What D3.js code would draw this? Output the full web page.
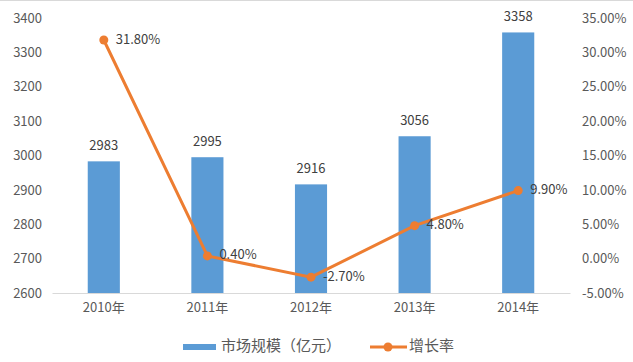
<!DOCTYPE html>
<html>
<head>
<meta charset="utf-8">
<script src="https://cdn.jsdelivr.net/npm/d3@7"></script>
<style>
  body { margin: 0; background: #fff; }
  text { font-family: "Noto Sans CJK SC", "Noto Sans", sans-serif; }
</style>
</head>
<body>
<div id="chart"></div>
<script>
// data
const years = ['2010年', '2011年', '2012年', '2013年', '2014年'];
const marketSize = [2983, 2995, 2916, 3056, 3358];
const growthRate = [31.8, 0.4, -2.7, 4.8, 9.9];
const leftTicks = [2600, 2700, 2800, 2900, 3000, 3100, 3200, 3300, 3400];
const rightTicks = [-5, 0, 5, 10, 15, 20, 25, 30, 35];

function drawChart() {
  const width = 633, height = 362;
  const margin = ({top: 18, right: 63, bottom: 69, left: 52});
  const visWidth = width - margin.left - margin.right;
  const visHeight = height - margin.top - margin.bottom;

  const svg = d3.select('#chart').append('svg')
      .attr('width', width)
      .attr('height', height);

  // thin border line at top
  svg.append('line')
      .attr('x1', 0).attr('x2', width)
      .attr('y1', 0.5).attr('y2', 0.5)
      .attr('stroke', '#d9d9d9');

  const g = svg.append('g')
      .attr('transform', `translate(${margin.left}, ${margin.top})`);

  const x = d3.scaleBand().domain(years).range([0, visWidth]).paddingInner(0.69).paddingOuter(0.345);
  const y = d3.scaleLinear().domain([2600, 3400]).range([visHeight, 0]);
  const y2 = d3.scaleLinear().domain([-5, 35]).range([visHeight, 0]);

  // left axis
  g.append('g')
      .call(d3.axisLeft(y).tickValues(leftTicks).tickFormat(d3.format('d')).tickSize(0).tickPadding(10))
      .call(g => g.select('.domain').remove())
      .call(g => g.selectAll('text').attr('fill', '#595959').style('font-size', '13px'));

  // right axis
  g.append('g')
      .attr('transform', `translate(${visWidth}, 0)`)
      .call(d3.axisRight(y2).tickValues(rightTicks).tickSize(0).tickPadding(12)
        .tickFormat(d => d.toFixed(2) + '%'))
      .call(g => g.select('.domain').remove())
      .call(g => g.selectAll('text').attr('fill', '#595959').style('font-size', '13px'));

  // bars
  g.selectAll('rect.bar')
    .data(marketSize)
    .join('rect')
      .attr('class', 'bar')
      .attr('x', (d, i) => x(years[i]))
      .attr('y', d => y(d))
      .attr('width', x.bandwidth())
      .attr('height', d => visHeight - y(d))
      .attr('fill', '#5b9bd5');

  // x axis baseline
  g.append('g')
      .attr('transform', `translate(0, ${visHeight})`)
      .call(d3.axisBottom(x).tickSize(0).tickPadding(10))
      .call(g => g.select('.domain').attr('stroke', '#d9d9d9'))
      .call(g => g.selectAll('text').attr('fill', '#595959').style('font-size', '13px'));

  // bar labels
  g.selectAll('text.barlabel')
    .data(marketSize)
    .join('text')
      .attr('class', 'barlabel')
      .attr('x', (d, i) => x(years[i]) + x.bandwidth() / 2)
      .attr('y', d => y(d) - 11)
      .attr('text-anchor', 'middle')
      .attr('fill', '#404040')
      .style('font-size', '13px')
      .text(d => d);

  // growth line
  const cx = i => x(years[i]) + x.bandwidth() / 2;
  const line = d3.line()
      .x((d, i) => cx(i))
      .y(d => y2(d));

  g.append('path')
      .datum(growthRate)
      .attr('d', line)
      .attr('fill', 'none')
      .attr('stroke', '#ed7d31')
      .attr('stroke-width', 3);

  g.selectAll('circle.pt')
    .data(growthRate)
    .join('circle')
      .attr('class', 'pt')
      .attr('cx', (d, i) => cx(i))
      .attr('cy', d => y2(d))
      .attr('r', 4.5)
      .attr('fill', '#ed7d31');

  g.selectAll('text.ptlabel')
    .data(growthRate)
    .join('text')
      .attr('class', 'ptlabel')
      .attr('x', (d, i) => cx(i) + 12)
      .attr('y', d => y2(d))
      .attr('dominant-baseline', 'middle')
      .attr('fill', '#404040')
      .style('font-size', '13px')
      .text(d => d.toFixed(2) + '%');

  // legend
  const legend = svg.append('g').attr('transform', `translate(0, ${height - 15})`);
  legend.append('rect')
      .attr('x', 183).attr('y', -3)
      .attr('width', 33).attr('height', 6)
      .attr('fill', '#5b9bd5');
  legend.append('text')
      .attr('x', 221).attr('y', 0)
      .attr('dominant-baseline', 'middle')
      .attr('fill', '#595959')
      .style('font-size', '15px')
      .text('市场规模（亿元）');
  legend.append('line')
      .attr('x1', 370).attr('x2', 407)
      .attr('y1', 0).attr('y2', 0)
      .attr('stroke', '#ed7d31')
      .attr('stroke-width', 3);
  legend.append('circle')
      .attr('cx', 388).attr('cy', 0).attr('r', 4.5)
      .attr('fill', '#ed7d31');
  legend.append('text')
      .attr('x', 409).attr('y', 0)
      .attr('dominant-baseline', 'middle')
      .attr('fill', '#595959')
      .style('font-size', '15px')
      .text('增长率');
}

window.onload = drawChart;
</script>
</body>
</html>
